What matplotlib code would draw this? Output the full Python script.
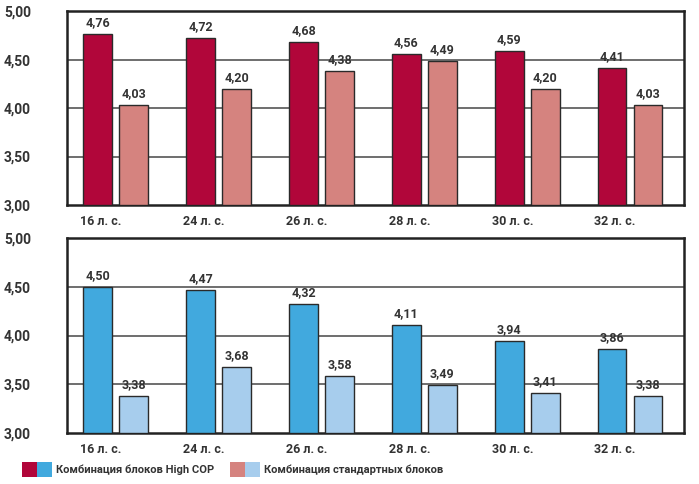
import matplotlib
matplotlib.use("Agg")
from matplotlib import pyplot as plt
from matplotlib.patches import Rectangle

plt.rcParams['font.family'] = ['Roboto', 'DejaVu Sans']
plt.rcParams['font.weight'] = 'bold'

categories = ["16 л. с.", "24 л. с.", "26 л. с.", "28 л. с.", "30 л. с.", "32 л. с."]
top_high = [4.76, 4.72, 4.68, 4.56, 4.59, 4.41]
top_std = [4.03, 4.20, 4.38, 4.49, 4.20, 4.03]
bot_high = [4.50, 4.47, 4.32, 4.11, 3.94, 3.86]
bot_std = [3.38, 3.68, 3.58, 3.49, 3.41, 3.38]
yticks = [3.0, 3.5, 4.0, 4.5, 5.0]
legend_labels = ["Комбинация блоков High COP", "Комбинация стандартных блоков"]

red_dark = "#B1063A"
red_light = "#D5837F"
blue_dark = "#41A9DE"
blue_light = "#A7CDED"
text_col = "#333333"

fig = plt.figure(figsize=(6.99, 4.84), dpi=100)
ax1 = fig.add_axes([0.0959, 0.5764, 0.8826, 0.4006])
ax2 = fig.add_axes([0.0959, 0.1054, 0.8826, 0.4026])


def fmt(v):
    return ("%.2f" % v).replace(".", ",")


def draw(ax, a, b, c1, c2):
    x = list(range(len(categories)))
    w = 0.28
    xa = [i - 0.2 for i in x]
    xb = [i + 0.15 for i in x]
    ax.bar(xa, [v - 3 for v in a], w, bottom=3, color=c1, edgecolor="#2a2a2a", linewidth=1, zorder=3)
    ax.bar(xb, [v - 3 for v in b], w, bottom=3, color=c2, edgecolor="#2a2a2a", linewidth=1, zorder=3)
    for xi, v in zip(xa, a):
        ax.text(xi, v + 0.05, fmt(v), ha="center", va="bottom", fontsize=9, color=text_col)
    for xi, v in zip(xb, b):
        ax.text(xi, v + 0.05, fmt(v), ha="center", va="bottom", fontsize=9, color=text_col)
    ax.set_xlim(-0.5, 5.5)
    ax.set_ylim(3, 5)
    ax.set_yticks(yticks)
    ax.set_yticklabels([fmt(t) for t in yticks], fontsize=10, color=text_col)
    ax.set_xticks([i - 0.17 for i in x])
    ax.set_xticklabels(categories, fontsize=9, color=text_col)
    ax.tick_params(length=0, pad=7)
    ax.tick_params(axis="y", pad=26)
    for t in yticks[1:-1]:
        ax.axhline(t, color="#555555", linewidth=1.2, zorder=1)
    for s in ax.spines.values():
        s.set_linewidth(1.8)
        s.set_color("#222222")


draw(ax1, top_high, top_std, red_dark, red_light)
draw(ax2, bot_high, bot_std, blue_dark, blue_light)

# legend
sq_w = 15 / 699
sq_h = 15 / 484
y0 = 1 - 477 / 484
for x0, cols, label in [(22 / 699, (red_dark, blue_dark), legend_labels[0]),
                        (230 / 699, (red_light, blue_light), legend_labels[1])]:
    fig.patches.append(Rectangle((x0, y0), sq_w, sq_h, transform=fig.transFigure,
                                 facecolor=cols[0], edgecolor="none"))
    fig.patches.append(Rectangle((x0 + sq_w, y0), sq_w, sq_h, transform=fig.transFigure,
                                 facecolor=cols[1], edgecolor="none"))
    fig.text(x0 + 2 * sq_w + 4 / 699, y0 + sq_h / 2, label, fontsize=8, va="center",
             ha="left", color=text_col)

fig.savefig("out.png", dpi=100)
